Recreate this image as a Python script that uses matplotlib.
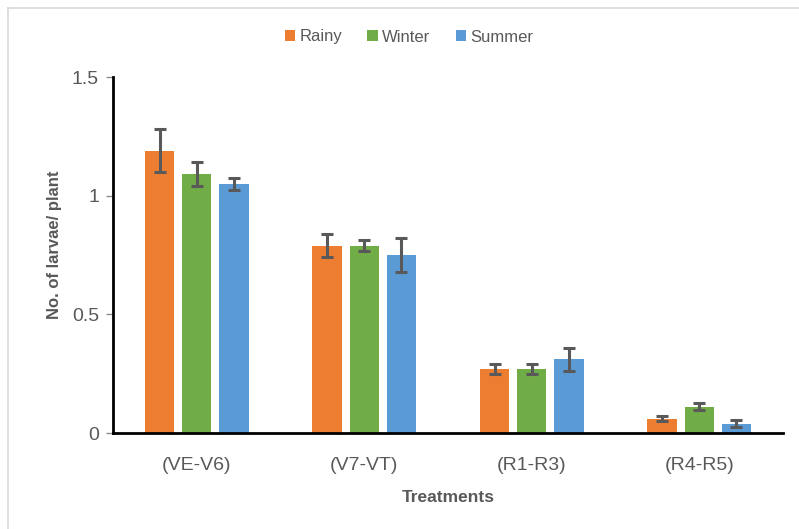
import numpy as np
import matplotlib
matplotlib.use("Agg")
from matplotlib import pyplot as plt
from matplotlib.lines import Line2D

plt.rcParams['font.family'] = ['Liberation Sans', 'DejaVu Sans']

categories = ["(VE-V6)", "(V7-VT)", "(R1-R3)", "(R4-R5)"]
seasons = ["Rainy", "Winter", "Summer"]
rainy = [1.19, 0.79, 0.27, 0.06]
winter = [1.09, 0.79, 0.27, 0.11]
summer = [1.05, 0.75, 0.31, 0.04]
rainy_err = [0.09, 0.05, 0.02, 0.01]
winter_err = [0.05, 0.025, 0.02, 0.015]
summer_err = [0.025, 0.07, 0.05, 0.015]
colors = ["#ED7D31", "#70AD47", "#5B9BD5"]

fig = plt.figure(figsize=(7.99, 5.29), dpi=100)
ax = fig.add_axes([113 / 799, 1 - 433 / 529, 670 / 799, 356 / 529])

x = np.arange(len(categories))
width = 0.175
step = 0.222
for i, (vals, errs) in enumerate([(rainy, rainy_err), (winter, winter_err), (summer, summer_err)]):
    ax.bar(x + (i - 1) * step, vals, width, color=colors[i], label=seasons[i],
           yerr=errs, error_kw=dict(ecolor="#595959", elinewidth=2.2, capsize=4, capthick=2.2))

ax.set_xlim(-0.5, 3.5)
ax.set_ylim(0, 1.5)
ax.set_yticks([0, 0.5, 1, 1.5])
ax.set_yticklabels(["0", "0.5", "1", "1.5"])
ax.set_xticks(x)
ax.set_xticklabels(categories)
ax.tick_params(axis='x', length=0, pad=17, labelsize=14, labelcolor="#595959")
ax.tick_params(axis='y', length=5, width=1, color="#8c8c8c", pad=5, labelsize=14, labelcolor="#595959")
for s in ["top", "right"]:
    ax.spines[s].set_visible(False)
for s in ["left", "bottom"]:
    ax.spines[s].set_linewidth(2)
    ax.spines[s].set_color("black")

ax.set_xlabel("Treatments", fontsize=12.5, fontweight="bold", color="#595959", labelpad=12)
ax.set_ylabel("No. of larvae/ plant", fontsize=12, fontweight="bold", color="#595959")
ax.yaxis.set_label_coords(-0.076, 0.53)

fig.legend(*ax.get_legend_handles_labels(), loc="center", bbox_to_anchor=(409 / 799, 1 - 37 / 529),
           ncol=3, frameon=False, fontsize=12, labelcolor="#595959", handlelength=0.65,
           handleheight=0.65, handletextpad=0.25, columnspacing=1.5)

# light frame around chart area
fig.add_artist(Line2D([8 / 799, 8 / 799], [0, 1 - 8 / 529], transform=fig.transFigure, color="#d9d9d9", lw=1.2))
fig.add_artist(Line2D([8 / 799, 1], [1 - 8 / 529, 1 - 8 / 529], transform=fig.transFigure, color="#d9d9d9", lw=1.2))

fig.savefig("out.png", dpi=100)
